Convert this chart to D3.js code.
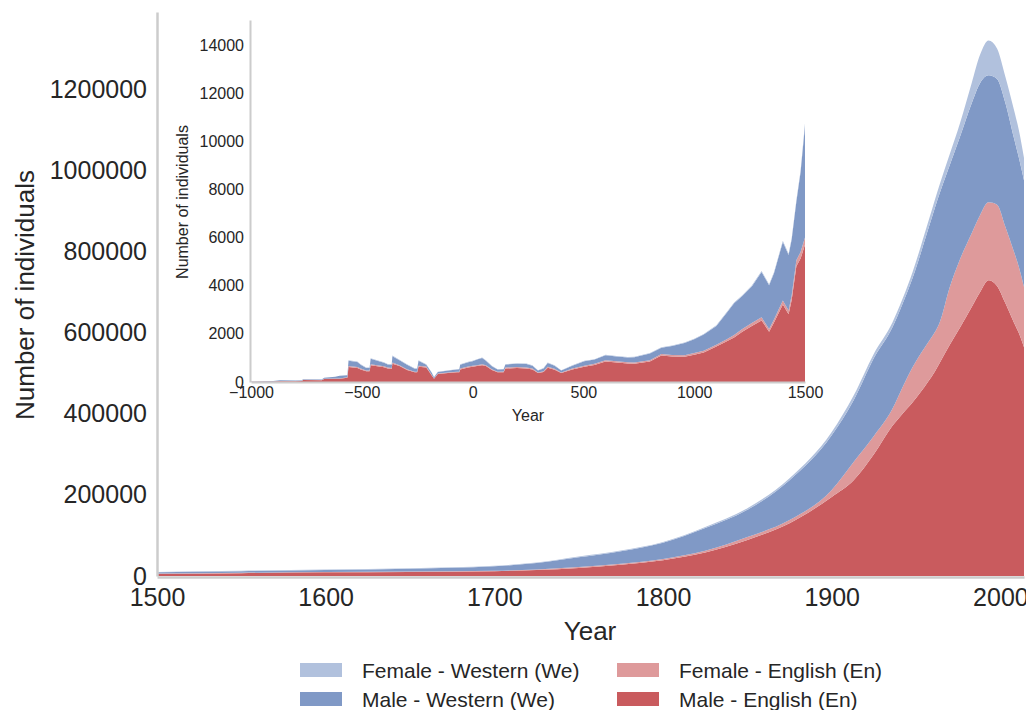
<!DOCTYPE html>
<html>
<head>
<meta charset="utf-8">
<script src="https://cdn.jsdelivr.net/npm/d3@7"></script>
<style>
  html, body { margin: 0; padding: 0; background: #fff; }
  svg text { font-family: "Liberation Sans", Arial, sans-serif; fill: #262626; }
</style>
</head>
<body>
<svg id="chart" width="1026" height="710"></svg>
<script>
// ---------- Main chart data (1500 - 2014) ----------
const years = [1500,1550,1600,1650,1700,1725,1750,1775,1800,1825,1850,1875,1900,1913,1925,1936,1942,1948,1957,1961,1964,1970,1976,1983,1988,1993,1998,2003,2008,2011,2014];
const maleEnglish   = [5000,7000,9000,10000,12000,15000,20000,28000,39000,58000,89000,130000,195000,236000,300000,370000,400000,428000,478000,503000,525000,570000,612000,663000,700000,729000,715000,672000,625000,598000,564000];
const femaleEnglish = [1000,1000,1000,1000,1000,1000,2000,2000,3000,4000,7000,8000,17000,45000,45000,42000,65000,87000,97000,97000,100000,142000,168000,182000,190000,192000,200000,188000,175000,163000,148000];
const maleWestern   = [3000,4000,5000,7000,11000,16000,24000,31000,40000,56000,67000,98000,135000,152000,192000,201000,206000,220000,277000,305000,318000,301000,302000,320000,325000,313000,310000,305000,280000,269000,263000];
const femaleWestern = [1000,1000,1000,1000,1000,1000,2000,2000,2000,3000,4000,5000,8000,12000,11000,12000,12000,15000,18000,20000,22000,27000,33000,50000,70000,86000,75000,65000,70000,68000,55000];

// ---------- Inset data (-1000 - 1500) ----------
const insetYears = [-1000,-900,-870,-800,-770,-765,-680,-670,-620,-600,-565,-560,-520,-505,-480,-465,-460,-400,-383,-365,-362,-330,-296,-261,-250,-244,-209,-185,-174,-157,-100,-70,-60,-56,-20,0,20,43,60,87,113,140,148,200,243,270,295,320,339,370,400,450,504,550,600,650,700,730,800,852,900,956,1000,1043,1100,1147,1180,1217,1260,1304,1338,1360,1400,1426,1440,1461,1480,1500];
const insetMaleEnglish = [10,20,35,35,45,80,70,120,135,135,180,620,580,520,450,450,700,610,560,540,760,660,500,400,400,630,600,280,140,330,380,400,400,520,600,630,660,700,660,500,400,410,560,580,560,520,370,420,590,510,370,520,630,710,850,810,770,760,850,1100,1060,1050,1130,1230,1470,1690,1850,2090,2330,2560,2090,2470,3220,2820,3420,4810,5130,5700];
const insetFemaleEnglish = [2,4,5,5,5,10,10,15,15,15,20,40,40,40,30,30,40,40,40,40,50,40,30,30,30,40,40,20,10,20,20,30,30,40,40,40,40,40,40,30,30,30,40,40,40,40,20,30,40,40,20,40,40,50,50,50,50,50,50,60,60,60,70,70,80,90,100,110,120,130,110,130,170,150,180,250,270,300];
const insetMaleWestern = [8,16,28,18,18,28,28,43,68,108,78,220,210,160,105,105,230,150,130,140,260,200,190,120,120,210,80,90,50,70,90,90,100,160,180,190,230,260,180,120,90,90,130,140,150,120,90,110,160,130,90,120,190,170,210,200,200,220,280,260,380,510,580,670,780,1100,1320,1370,1520,1880,1820,1920,2430,2310,2330,2430,3310,4650];
const insetFemaleWestern = [0,0,2,2,2,2,2,2,2,2,2,20,20,20,15,15,20,20,20,20,30,20,20,20,20,20,20,10,10,10,10,10,10,20,20,20,20,20,20,20,10,10,10,20,20,20,10,20,20,20,10,20,20,20,20,20,20,20,20,20,20,20,20,20,30,30,30,30,40,40,40,40,50,50,50,60,70,100];

const mainYTicks = [0,200000,400000,600000,800000,1000000,1200000];
const mainXTicks = [1500,1600,1700,1800,1900,2000];
const insetYTicks = [0,2000,4000,6000,8000,10000,12000,14000];
const insetXTicks = [-1000,-500,0,500,1000,1500];

const keys = ["maleEnglish","femaleEnglish","maleWestern","femaleWestern"];
const labels = {
  femaleWestern: "Female - Western (We)",
  maleWestern: "Male - Western (We)",
  femaleEnglish: "Female - English (En)",
  maleEnglish: "Male - English (En)"
};
const colors = {
  femaleWestern: "#b1c1dd",
  maleWestern: "#8099c6",
  femaleEnglish: "#de9a9b",
  maleEnglish: "#c95b5e"
};

const svg = d3.select("#chart");
const spineColor = "#cccccc";

// ---------- Main chart ----------
const mainRows = years.map((yr, i) => ({
  year: yr,
  maleEnglish: maleEnglish[i],
  femaleEnglish: femaleEnglish[i],
  maleWestern: maleWestern[i],
  femaleWestern: femaleWestern[i]
}));
const x = d3.scaleLinear().domain([1500, 2014]).range([157, 1024]);
const y = d3.scaleLinear().domain([0, 1390000]).range([576, 12]);
const stack = d3.stack().keys(keys);
const mainSeries = stack(mainRows);
const area = d3.area()
  .x(d => x(d.data.year))
  .y0(d => y(d[0]))
  .y1(d => y(d[1]))
  .curve(d3.curveMonotoneX);

svg.append("g").selectAll("path").data(mainSeries).join("path")
  .attr("d", area)
  .attr("fill", d => colors[d.key]);

// axes
const xAxis = svg.append("g").attr("transform", "translate(0,577)")
  .call(d3.axisBottom(x).tickValues(mainXTicks).tickFormat(d3.format("d")).tickSize(0).tickPadding(11));
xAxis.select(".domain").attr("stroke", spineColor).attr("stroke-width", 2.5);
xAxis.selectAll("text").style("font-size", "25px");

const yAxis = svg.append("g").attr("transform", "translate(157,0)")
  .call(d3.axisLeft(y).tickValues(mainYTicks).tickFormat(d3.format("d")).tickSize(0).tickPadding(10));
yAxis.select(".domain").attr("stroke", spineColor).attr("stroke-width", 2.5);
yAxis.selectAll("text").style("font-size", "25px");

svg.append("text").attr("x", 590).attr("y", 640).attr("text-anchor", "middle")
  .style("font-size", "26px").text("Year");
svg.append("text").attr("transform", "translate(34,295) rotate(-90)").attr("text-anchor", "middle")
  .style("font-size", "26px").text("Number of individuals");

// ---------- Inset ----------
const insetRows = insetYears.map((yr, i) => ({
  year: yr,
  maleEnglish: insetMaleEnglish[i],
  femaleEnglish: insetFemaleEnglish[i],
  maleWestern: insetMaleWestern[i],
  femaleWestern: insetFemaleWestern[i]
}));
const ix = d3.scaleLinear().domain([-1000, 1500]).range([251, 805]);
const iy = d3.scaleLinear().domain([0, 15040]).range([382, 20]);
const insetSeries = stack(insetRows);
const iarea = d3.area()
  .x(d => ix(d.data.year))
  .y0(d => iy(d[0]))
  .y1(d => iy(d[1]))
  .curve(d3.curveLinear);

const inset = svg.append("g");
inset.selectAll("path").data(insetSeries).join("path")
  .attr("d", iarea)
  .attr("fill", d => colors[d.key]);

const ixAxis = inset.append("g").attr("transform", "translate(0,382)")
  .call(d3.axisBottom(ix).tickValues(insetXTicks).tickFormat(d => d3.format("d")(d).replace("-", "\u2212")).tickSize(0).tickPadding(5));
ixAxis.select(".domain").attr("stroke", spineColor).attr("stroke-width", 2);
ixAxis.selectAll("text").style("font-size", "16px");

const iyAxis = inset.append("g").attr("transform", "translate(250,0)")
  .call(d3.axisLeft(iy).tickValues(insetYTicks).tickFormat(d3.format("d")).tickSize(0).tickPadding(6));
iyAxis.select(".domain").attr("stroke", spineColor).attr("stroke-width", 2);
iyAxis.selectAll("text").style("font-size", "16px");

inset.append("text").attr("x", 528).attr("y", 421).attr("text-anchor", "middle")
  .style("font-size", "16px").text("Year");
inset.append("text").attr("transform", "translate(188,202) rotate(-90)").attr("text-anchor", "middle")
  .style("font-size", "16px").text("Number of individuals");

// ---------- Legend ----------
const legendItems = [
  {key: "femaleWestern", col: 0, row: 0},
  {key: "femaleEnglish", col: 1, row: 0},
  {key: "maleWestern", col: 0, row: 1},
  {key: "maleEnglish", col: 1, row: 1}
];
const legend = svg.append("g");
const colX = [300, 617];
const rowY = [670, 699];
legendItems.forEach(it => {
  const gx = colX[it.col], gy = rowY[it.row];
  legend.append("rect").attr("x", gx).attr("y", gy - 7).attr("width", 42).attr("height", 14)
    .attr("fill", colors[it.key]);
  legend.append("text").attr("x", gx + 62).attr("y", gy).attr("dy", "0.36em")
    .style("font-size", "21px").text(labels[it.key]);
});
</script>
</body>
</html>
